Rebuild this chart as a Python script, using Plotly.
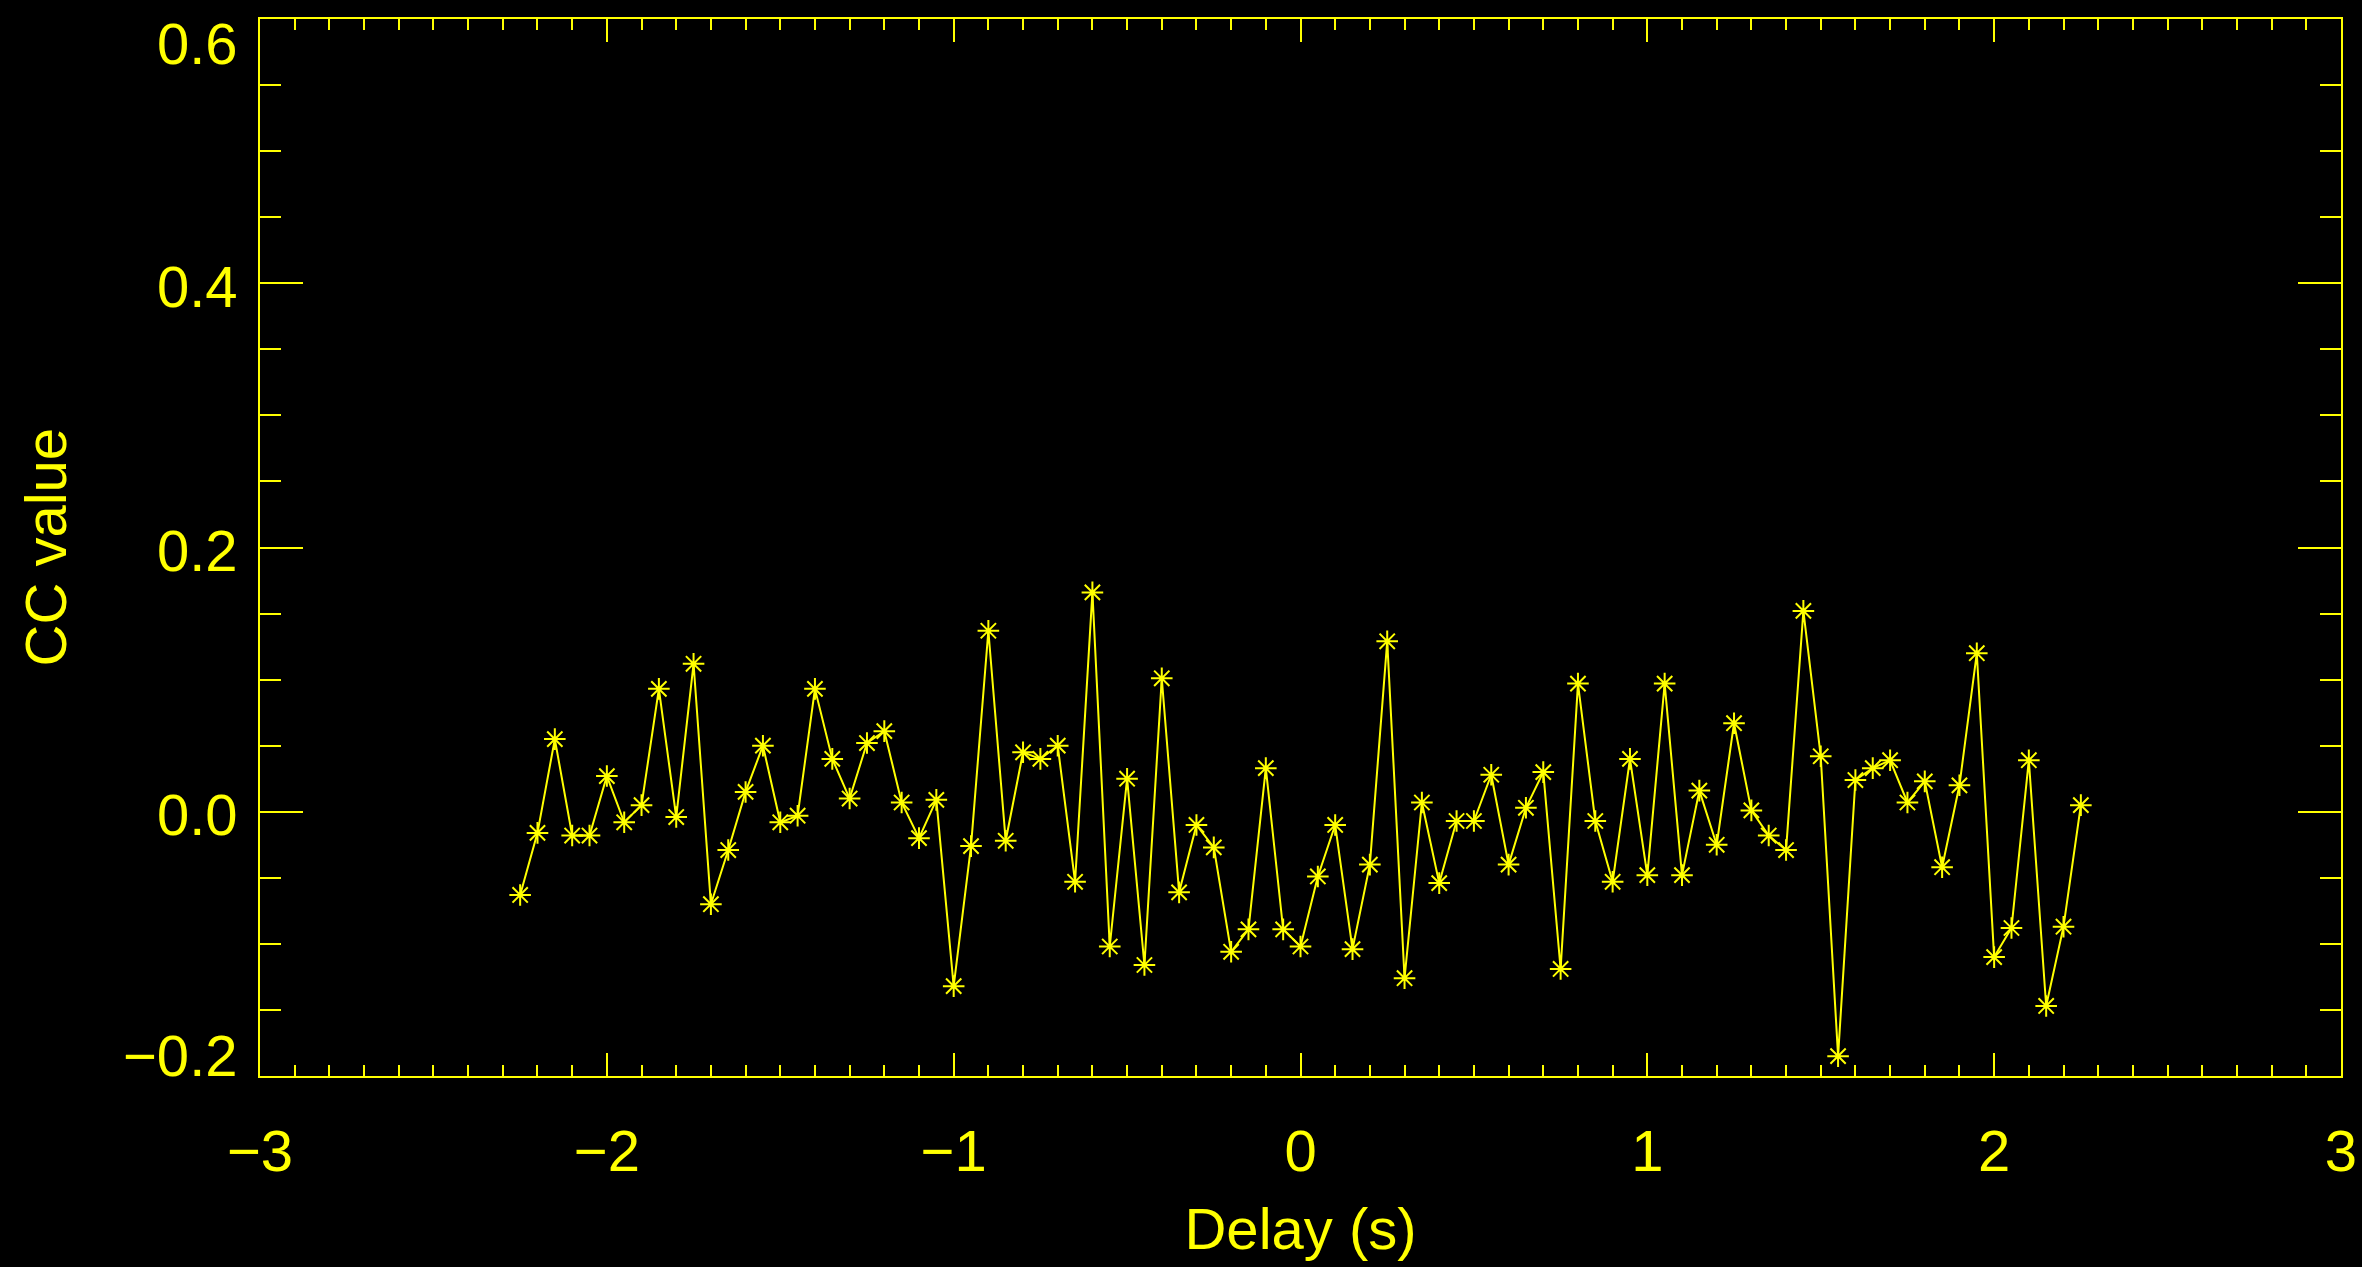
import plotly.graph_objects as go

# Cross-correlation coefficient versus time delay (0.05 s steps)
delay_s = [round(-2.25 + 0.05 * i, 2) for i in range(91)]
cc_value = [
    -0.063, -0.016, 0.055, -0.018, -0.018, 0.027, -0.008, 0.005, 0.093, -0.004,
    0.112, -0.070, -0.029, 0.015, 0.050, -0.008, -0.003, 0.093, 0.040, 0.010,
    0.052, 0.061, 0.007, -0.020, 0.009, -0.132, -0.026, 0.137, -0.022, 0.045,
    0.040, 0.050, -0.053, 0.166, -0.102, 0.025, -0.116, 0.101, -0.061, -0.010,
    -0.027, -0.106, -0.089, 0.033, -0.089, -0.102, -0.049, -0.010, -0.104, -0.040,
    0.129, -0.126, 0.007, -0.054, -0.007, -0.007, 0.028, -0.040, 0.003, 0.030,
    -0.119, 0.097, -0.007, -0.053, 0.040, -0.048, 0.097, -0.048, 0.016, -0.025,
    0.067, 0.001, -0.018, -0.029, 0.152, 0.042, -0.185, 0.024, 0.033, 0.039,
    0.007, 0.023, -0.042, 0.020, 0.120, -0.110, -0.088, 0.039, -0.147, -0.087,
    0.005,
]

x_ticks = [-3, -2, -1, 0, 1, 2, 3]
y_ticks = [-0.2, 0.0, 0.2, 0.4, 0.6]
y_tick_labels = ["\u22120.2", "0.0", "0.2", "0.4", "0.6"]

FG = "#ffff00"
BG = "#000000"
FONT = dict(family="Liberation Sans, Arial, sans-serif", size=58, color=FG)

fig = go.Figure()
fig.add_trace(go.Scatter(
    x=delay_s,
    y=cc_value,
    mode="lines+markers",
    line=dict(color=FG, width=2),
    marker=dict(symbol="asterisk-open", size=18, color=FG,
                line=dict(color=FG, width=2)),
    showlegend=False,
))

# Y tick labels: the end labels are kept inside the axis extent
# (top one hangs below its tick, bottom one sits on its tick).
y_lo, y_hi = min(y_ticks), max(y_ticks)
for val, txt in zip(y_ticks, y_tick_labels):
    if val == y_hi:
        anchor, shift = "top", 10
    elif val == y_lo:
        anchor, shift = "bottom", -14
    else:
        anchor, shift = "middle", -3
    fig.add_annotation(
        x=0, xref="paper", xanchor="right", xshift=-20,
        y=val, yref="y", yanchor=anchor, yshift=shift,
        text=txt, showarrow=False, font=FONT,
    )

# Vertical axis title
fig.add_annotation(
    x=0, xref="paper", xanchor="center", xshift=-215,
    y=0.5, yref="paper", yanchor="middle",
    text="CC value", textangle=-90, showarrow=False, font=FONT,
)

fig.update_layout(
    width=2362,
    height=1267,
    paper_bgcolor=BG,
    plot_bgcolor=BG,
    font=FONT,
    margin=dict(l=260, r=21, t=19, b=191, autoexpand=False),
    xaxis=dict(
        range=[-3.0001, 3.0001],
        tickvals=x_ticks,
        ticks="inside",
        ticklen=23,
        tickwidth=2,
        tickcolor=FG,
        showline=True,
        linecolor=FG,
        linewidth=2,
        mirror="allticks",
        showgrid=False,
        zeroline=False,
        automargin=False,
        tickfont=FONT,
        ticklabelstandoff=23,
        ticklabeloverflow="allow",
        minor=dict(dtick=0.1, ticks="inside", ticklen=11, tickwidth=2,
                   tickcolor=FG, showgrid=False),
        title=dict(text="Delay (s)", font=FONT, standoff=27),
    ),
    yaxis=dict(
        range=[-0.20001, 0.60001],
        tickvals=y_ticks,
        showticklabels=False,
        ticks="inside",
        ticklen=43,
        tickwidth=2,
        tickcolor=FG,
        showline=True,
        linecolor=FG,
        linewidth=2,
        mirror="allticks",
        showgrid=False,
        zeroline=False,
        automargin=False,
        minor=dict(dtick=0.05, ticks="inside", ticklen=21, tickwidth=2,
                   tickcolor=FG, showgrid=False),
    ),
)

fig.write_html("out.html")
